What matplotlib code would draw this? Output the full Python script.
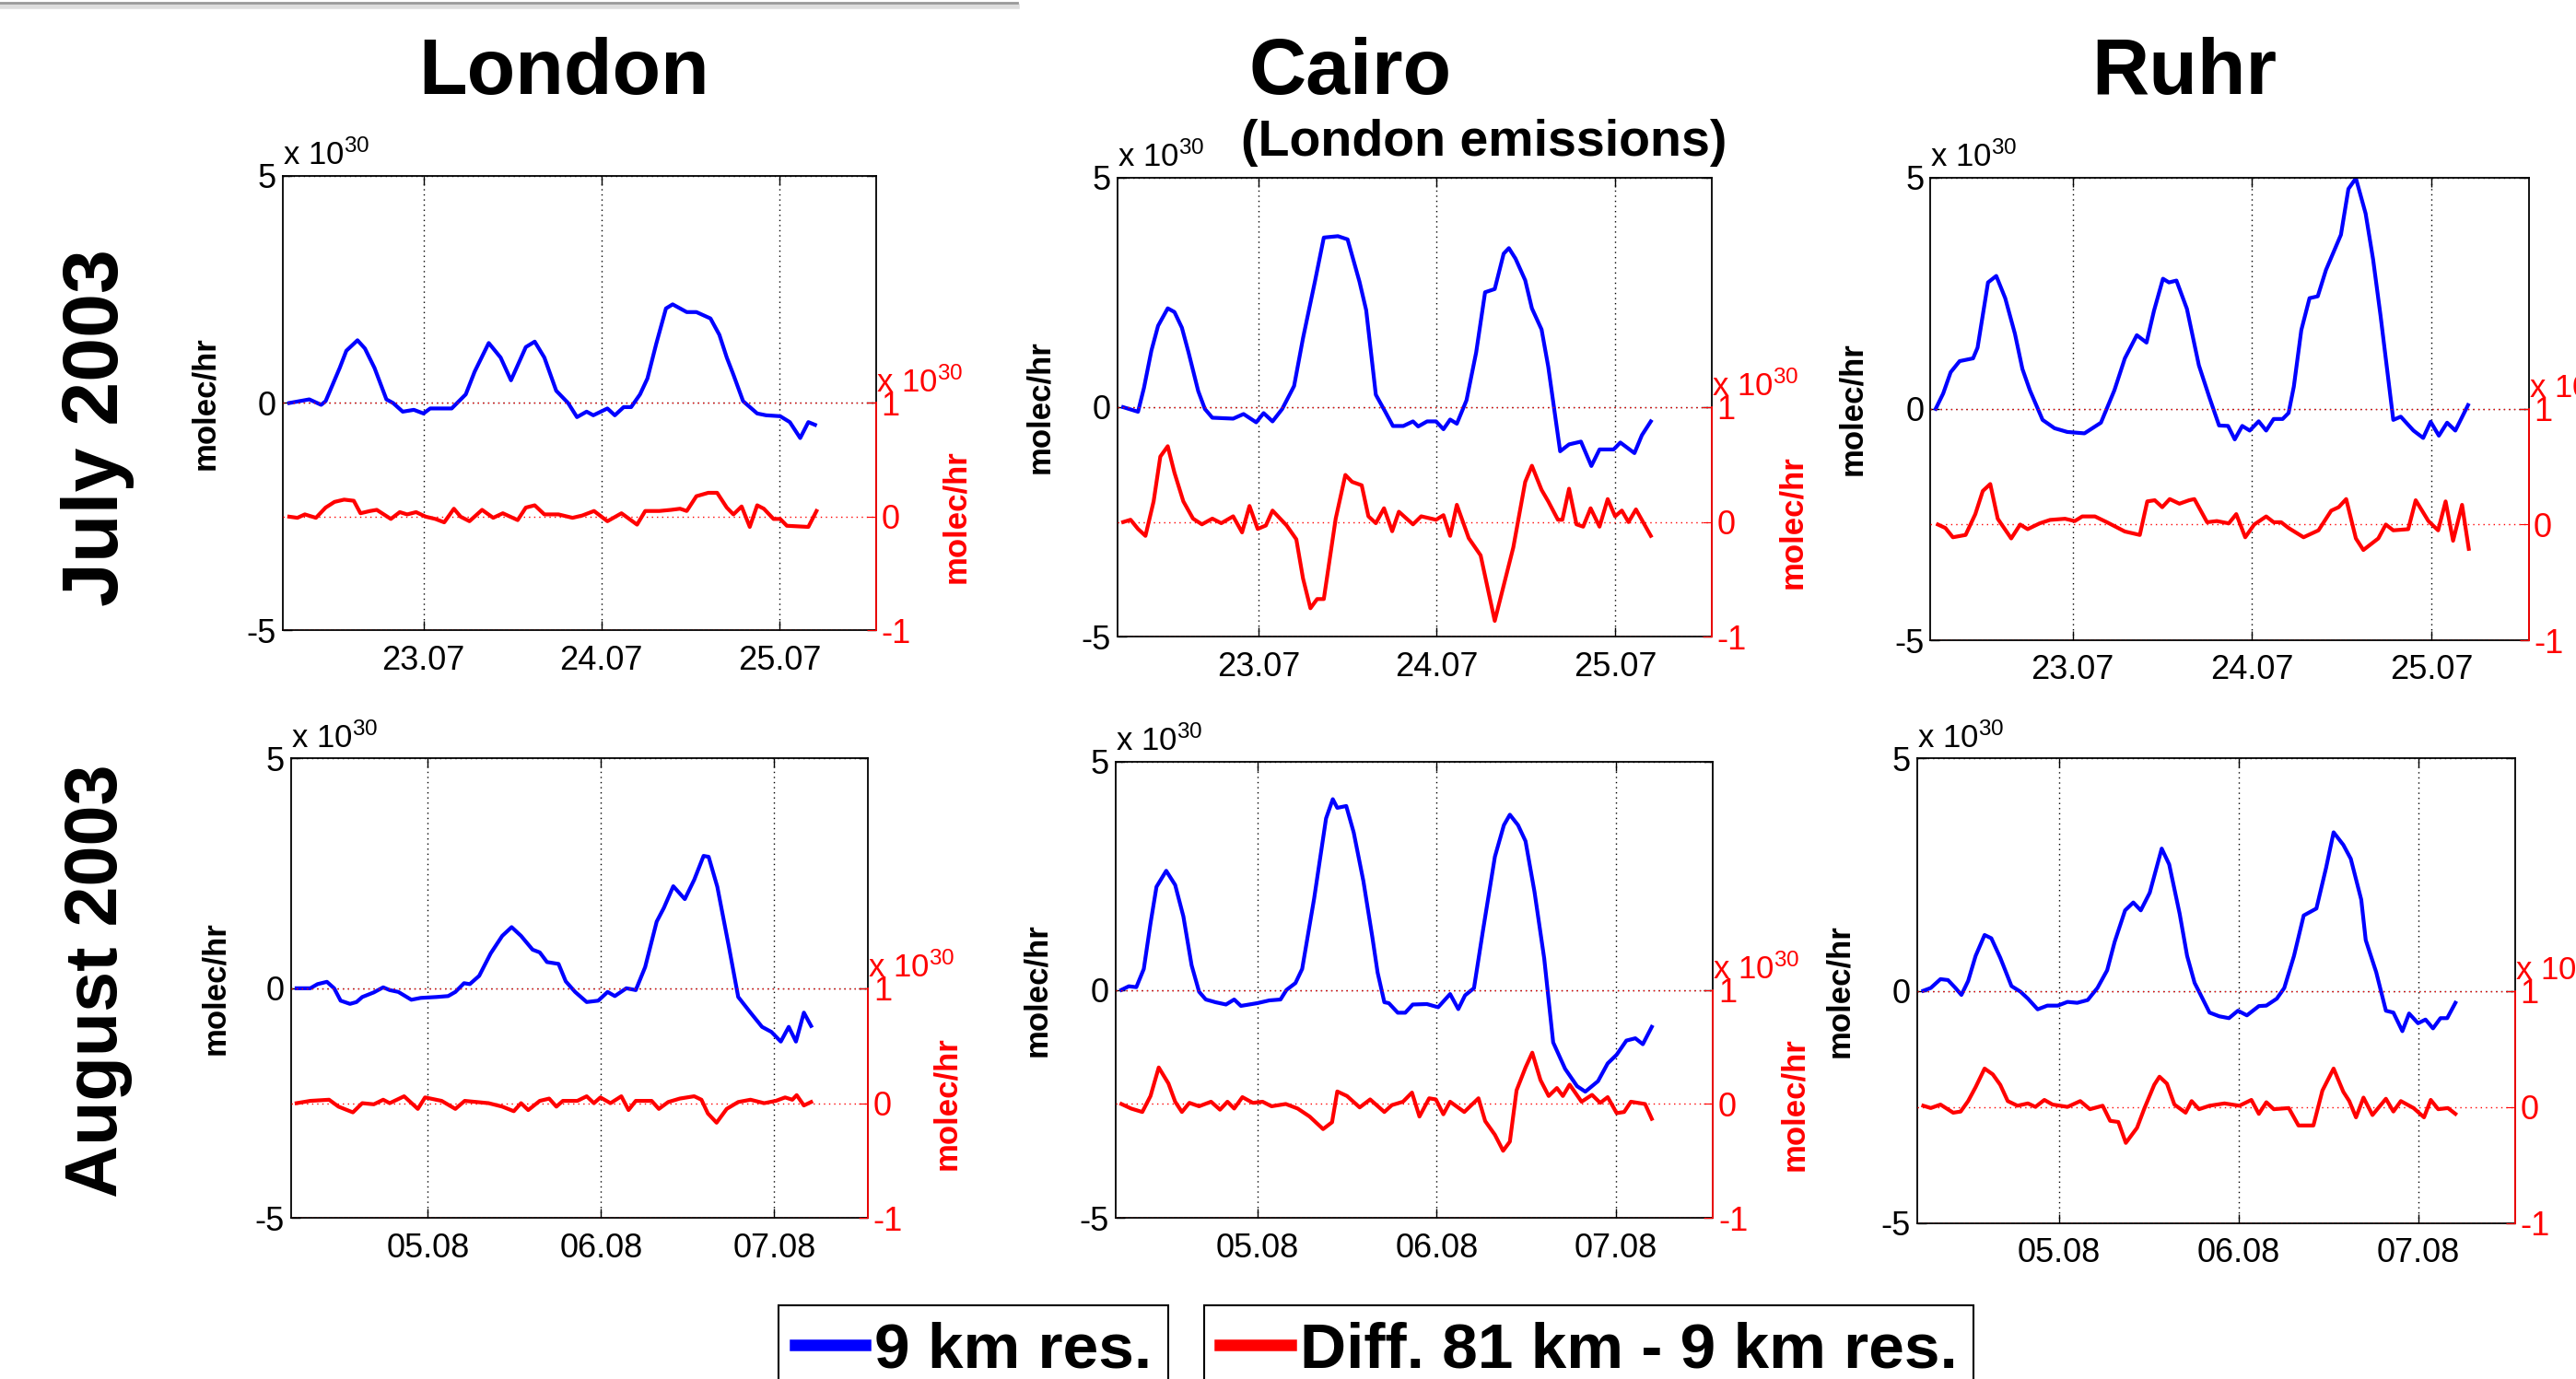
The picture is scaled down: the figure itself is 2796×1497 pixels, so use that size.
import numpy as np
import matplotlib
import matplotlib.pyplot as plt
from matplotlib.lines import Line2D

matplotlib.use('Agg')

plt.rcParams['font.family'] = ['Liberation Sans', 'DejaVu Sans']
plt.rcParams['mathtext.fontset'] = 'custom'
plt.rcParams['mathtext.rm'] = 'Liberation Sans'
plt.rcParams['mathtext.default'] = 'regular'

# (hour since start of window, value in 1e30 molec/hr)
london_jul_9km = [(0.9, 0.0), (3.6, 0.08), (5.2, -0.04), (5.8, 0.04), (7.7, 0.77), (8.6, 1.15), (10.1, 1.38),
                  (11.1, 1.2), (12.4, 0.77), (14.0, 0.08), (14.9, 0.0), (16.2, -0.19), (17.7, -0.15), (19.0, -0.23),
                  (19.9, -0.12), (22.8, -0.12), (24.7, 0.19), (25.9, 0.69), (27.8, 1.32), (29.4, 1.0), (30.8, 0.5),
                  (32.8, 1.23), (34.0, 1.35), (35.3, 1.0), (36.9, 0.27), (38.5, 0.0), (39.7, -0.31), (41.0, -0.19),
                  (41.9, -0.27), (43.8, -0.12), (44.8, -0.27), (46.0, -0.09), (47.0, -0.09), (48.2, 0.19),
                  (49.2, 0.54), (50.4, 1.31), (51.7, 2.08), (52.6, 2.17), (54.5, 2.0), (55.8, 2.0), (57.7, 1.86),
                  (58.9, 1.5), (59.9, 1.0), (60.8, 0.62), (62.1, 0.04), (64.0, -0.23), (65.2, -0.27), (67.1, -0.29),
                  (68.4, -0.42), (69.8, -0.77), (70.9, -0.42), (71.8, -0.48)]
london_jul_diff = [(0.9, 0.0), (2.0, -0.01), (3.0, 0.02), (4.5, -0.01), (5.8, 0.08), (7.0, 0.13), (8.3, 0.15),
                   (9.6, 0.14), (10.5, 0.03), (11.8, 0.05), (12.7, 0.06), (14.6, -0.02), (15.8, 0.04), (16.8, 0.02),
                   (18.0, 0.04), (19.3, 0.0), (20.6, -0.02), (21.8, -0.05), (23.1, 0.07), (24.0, 0.0), (25.2, -0.04),
                   (26.9, 0.06), (28.4, -0.01), (29.7, 0.03), (31.7, -0.03), (32.8, 0.08), (34.0, 0.1), (35.3, 0.02),
                   (37.2, 0.02), (39.1, -0.01), (40.4, 0.01), (42.0, 0.05), (43.8, -0.04), (45.7, 0.03),
                   (47.8, -0.07), (48.9, 0.05), (50.8, 0.05), (52.4, 0.06), (53.6, 0.07), (54.5, 0.05), (55.8, 0.18),
                   (57.4, 0.21), (58.6, 0.21), (59.9, 0.08), (60.8, 0.02), (61.9, 0.09), (63.0, -0.09), (64.0, 0.1),
                   (64.9, 0.07), (66.2, -0.02), (67.1, -0.02), (68.0, -0.08), (70.9, -0.09), (72.0, 0.05)]

cairo_jul_9km = [(0.8, 0.0), (1.8, -0.05), (2.8, -0.1), (3.6, 0.42), (4.6, 1.23), (5.5, 1.77), (6.8, 2.15),
                 (7.7, 2.07), (8.7, 1.73), (9.6, 1.19), (10.9, 0.35), (11.8, -0.04), (12.8, -0.23), (15.6, -0.25),
                 (17.0, -0.15), (18.7, -0.33), (19.7, -0.13), (20.9, -0.31), (22.2, -0.04), (23.8, 0.46),
                 (25.0, 1.5), (26.6, 2.73), (27.8, 3.69), (29.7, 3.72), (31.0, 3.65), (32.6, 2.73), (33.5, 2.11),
                 (34.8, 0.27), (36.0, -0.08), (37.1, -0.41), (38.5, -0.41), (39.8, -0.31), (40.5, -0.42),
                 (41.7, -0.31), (42.9, -0.31), (43.9, -0.48), (44.8, -0.27), (45.7, -0.36), (47.0, 0.15),
                 (48.3, 1.19), (49.5, 2.5), (50.8, 2.57), (52.0, 3.34), (52.7, 3.46), (53.6, 3.23), (54.9, 2.76),
                 (55.8, 2.15), (57.1, 1.69), (58.0, 0.88), (59.6, -0.96), (60.8, -0.81), (62.4, -0.75),
                 (63.8, -1.28), (64.9, -0.92), (66.8, -0.92), (67.7, -0.77), (69.6, -1.0), (70.6, -0.61),
                 (71.8, -0.31)]
cairo_jul_diff = [(0.8, 0.0), (1.8, 0.02), (2.8, -0.06), (3.8, -0.12), (4.9, 0.18), (5.8, 0.57), (6.8, 0.66),
                  (7.7, 0.43), (8.9, 0.18), (10.2, 0.03), (11.4, -0.02), (12.8, 0.03), (14.0, -0.01), (15.6, 0.05),
                  (16.8, -0.09), (17.8, 0.14), (18.9, -0.06), (20.0, -0.03), (20.9, 0.1), (22.8, -0.03),
                  (24.1, -0.15), (25.0, -0.49), (26.0, -0.75), (26.9, -0.67), (27.8, -0.67), (29.4, 0.03),
                  (30.7, 0.41), (31.6, 0.35), (32.9, 0.32), (33.8, 0.05), (34.8, -0.01), (35.9, 0.12), (37.0, -0.08),
                  (37.9, 0.09), (39.8, -0.02), (40.9, 0.05), (42.9, 0.02), (43.9, 0.06), (44.8, -0.12), (45.7, 0.15),
                  (47.3, -0.14), (48.9, -0.29), (50.8, -0.86), (53.3, -0.22), (54.9, 0.35), (55.8, 0.49),
                  (57.1, 0.28), (58.0, 0.18), (59.3, 0.02), (59.9, 0.02), (60.8, 0.29), (61.8, -0.02), (62.7, -0.04),
                  (63.7, 0.12), (64.9, -0.04), (66.0, 0.2), (67.0, 0.05), (67.9, 0.1), (68.8, 0.0), (69.8, 0.11),
                  (71.8, -0.12)]

ruhr_jul_9km = [(0.7, 0.0), (1.7, 0.33), (2.7, 0.79), (3.9, 1.03), (5.7, 1.09), (6.3, 1.32), (7.7, 2.73),
                (8.8, 2.87), (10.0, 2.39), (11.3, 1.62), (12.3, 0.86), (13.3, 0.4), (15.0, -0.24), (16.6, -0.42),
                (18.3, -0.5), (20.6, -0.53), (22.8, -0.3), (24.6, 0.4), (26.0, 1.09), (27.6, 1.59), (28.9, 1.43),
                (29.9, 2.12), (31.1, 2.81), (31.9, 2.73), (32.9, 2.77), (34.3, 2.16), (35.9, 0.94), (37.3, 0.25),
                (38.6, -0.36), (39.8, -0.37), (40.7, -0.66), (41.7, -0.37), (42.7, -0.47), (43.9, -0.27),
                (44.9, -0.47), (45.9, -0.22), (47.1, -0.22), (47.9, -0.09), (48.6, 0.48), (49.6, 1.7), (50.7, 2.39),
                (51.8, 2.43), (52.9, 3.0), (54.9, 3.76), (55.9, 4.75), (56.9, 4.98), (58.2, 4.22), (59.2, 3.23),
                (60.2, 2.01), (61.9, -0.24), (62.9, -0.17), (64.6, -0.47), (65.9, -0.63), (66.9, -0.28),
                (68.0, -0.58), (69.1, -0.3), (70.2, -0.47), (71.9, 0.08)]
ruhr_jul_diff = [(1.0, 0.0), (2.0, -0.03), (3.0, -0.11), (4.7, -0.09), (6.0, 0.09), (7.0, 0.29), (8.0, 0.35),
                 (9.0, 0.05), (10.8, -0.12), (12.0, 0.0), (13.0, -0.04), (14.6, 0.01), (16.0, 0.04), (18.0, 0.05),
                 (19.3, 0.03), (20.3, 0.07), (22.0, 0.07), (23.6, 0.02), (26.0, -0.06), (28.0, -0.09), (29.0, 0.2),
                 (30.0, 0.21), (31.0, 0.15), (32.0, 0.22), (33.3, 0.18), (34.6, 0.21), (35.3, 0.22), (37.0, 0.02),
                 (38.3, 0.03), (39.9, 0.01), (40.9, 0.09), (42.1, -0.11), (43.3, 0.0), (44.9, 0.07), (45.9, 0.02),
                 (46.9, 0.02), (47.9, -0.03), (49.9, -0.11), (51.9, -0.05), (53.6, 0.12), (54.6, 0.15),
                 (55.6, 0.22), (56.9, -0.12), (57.9, -0.22), (59.9, -0.12), (60.9, 0.0), (61.9, -0.05),
                 (63.9, -0.04), (64.9, 0.21), (66.6, 0.03), (67.9, -0.05), (68.9, 0.2), (69.9, -0.14), (71.1, 0.17),
                 (72.0, -0.21)]

london_aug_9km = [(0.8, 0.0), (2.7, 0.0), (3.7, 0.09), (5.0, 0.14), (6.0, 0.0), (6.9, -0.27), (8.2, -0.34),
                  (9.1, -0.3), (9.9, -0.19), (11.5, -0.09), (12.8, 0.02), (13.7, -0.04), (14.9, -0.08),
                  (16.7, -0.25), (18.0, -0.21), (20.2, -0.19), (21.8, -0.17), (22.8, -0.08), (24.0, 0.11),
                  (24.8, 0.09), (26.1, 0.27), (27.7, 0.76), (29.3, 1.14), (30.6, 1.33), (31.9, 1.14), (33.5, 0.84),
                  (34.5, 0.78), (35.5, 0.57), (37.1, 0.53), (38.1, 0.15), (39.4, -0.08), (41.0, -0.3), (42.6, -0.27),
                  (43.9, -0.08), (44.9, -0.17), (46.5, 0.0), (47.8, -0.04), (49.1, 0.46), (50.7, 1.45), (51.7, 1.75),
                  (53.0, 2.22), (54.6, 1.94), (55.9, 2.36), (57.2, 2.88), (57.9, 2.86), (59.1, 2.21), (60.7, 0.91),
                  (62.0, -0.19), (63.7, -0.53), (65.3, -0.84), (66.6, -0.95), (67.9, -1.16), (69.0, -0.84),
                  (70.0, -1.16), (71.1, -0.53), (72.1, -0.82)]
london_aug_diff = [(0.8, 0.0), (2.7, 0.02), (5.3, 0.03), (6.6, -0.03), (8.6, -0.08), (9.9, 0.0), (11.5, -0.01),
                   (12.8, 0.03), (13.7, 0.0), (15.7, 0.06), (17.6, -0.05), (18.6, 0.05), (20.9, 0.02), (22.8, -0.05),
                   (24.1, 0.02), (27.4, 0.0), (29.3, -0.03), (30.9, -0.07), (31.9, 0.0), (32.9, -0.06), (34.5, 0.02),
                   (35.8, 0.04), (36.8, -0.03), (37.7, 0.02), (39.7, 0.02), (41.0, 0.06), (42.0, 0.0), (42.9, 0.05),
                   (44.3, 0.0), (45.8, 0.06), (46.8, -0.06), (47.8, 0.02), (50.0, 0.02), (51.0, -0.05), (52.3, 0.01),
                   (53.9, 0.04), (55.9, 0.06), (56.9, 0.03), (57.8, -0.09), (59.0, -0.17), (60.4, -0.05),
                   (62.0, 0.01), (63.7, 0.03), (65.6, 0.0), (67.2, 0.02), (68.5, 0.05), (69.5, 0.03), (70.1, 0.07),
                   (71.1, -0.02), (72.1, 0.01)]

cairo_aug_9km = [(0.8, 0.0), (1.8, 0.08), (2.8, 0.06), (3.8, 0.46), (4.7, 1.46), (5.5, 2.26), (6.8, 2.61),
                 (8.0, 2.3), (9.1, 1.61), (10.2, 0.54), (11.2, -0.04), (12.1, -0.21), (13.4, -0.27), (14.8, -0.32),
                 (15.9, -0.21), (16.8, -0.35), (19.0, -0.29), (20.6, -0.23), (22.1, -0.21), (22.9, 0.0),
                 (24.1, 0.15), (25.0, 0.46), (26.6, 2.0), (28.2, 3.76), (29.1, 4.18), (29.7, 3.99), (30.9, 4.03),
                 (31.9, 3.45), (33.2, 2.38), (34.4, 1.15), (35.1, 0.38), (36.0, -0.27), (36.6, -0.29), (37.8, -0.5),
                 (38.8, -0.5), (39.8, -0.32), (41.7, -0.31), (43.2, -0.38), (44.8, -0.09), (45.9, -0.42),
                 (46.8, -0.12), (48.0, 0.04), (49.2, 1.3), (50.8, 2.92), (52.0, 3.61), (52.8, 3.84), (53.9, 3.61),
                 (54.9, 3.26), (56.1, 2.15), (57.4, 0.69), (58.6, -1.15), (60.2, -1.73), (61.8, -2.11),
                 (62.9, -2.23), (64.6, -2.0), (65.9, -1.61), (67.1, -1.42), (68.4, -1.11), (69.6, -1.06),
                 (70.6, -1.19), (71.8, -0.81)]
cairo_aug_diff = [(0.8, 0.0), (2.1, -0.04), (3.6, -0.07), (4.7, 0.07), (5.8, 0.32), (7.1, 0.18), (8.0, 0.02),
                  (8.9, -0.07), (9.9, 0.01), (11.2, -0.02), (12.8, 0.02), (14.0, -0.05), (15.0, 0.02), (15.9, -0.04),
                  (17.0, 0.06), (18.4, 0.01), (19.7, 0.02), (20.9, -0.02), (22.8, 0.0), (24.4, -0.04), (26.0, -0.11),
                  (27.8, -0.22), (29.0, -0.16), (29.7, 0.11), (31.0, 0.07), (32.7, -0.03), (34.1, 0.04),
                  (36.0, -0.07), (37.0, -0.01), (38.5, 0.02), (39.7, 0.1), (40.7, -0.11), (42.0, 0.05), (42.9, 0.04),
                  (43.9, -0.09), (44.8, 0.02), (46.7, -0.07), (48.6, 0.05), (49.5, -0.15), (50.8, -0.27),
                  (51.9, -0.41), (52.8, -0.33), (53.7, 0.12), (54.9, 0.32), (55.8, 0.45), (56.9, 0.21), (58.0, 0.07),
                  (59.1, 0.14), (59.9, 0.07), (60.8, 0.17), (62.4, 0.02), (63.8, 0.08), (64.9, 0.01), (65.9, 0.06),
                  (67.1, -0.08), (68.1, -0.07), (69.0, 0.02), (70.9, 0.0), (71.8, -0.13)]

ruhr_aug_9km = [(0.8, 0.0), (1.8, 0.06), (3.1, 0.25), (4.1, 0.23), (5.1, 0.06), (5.9, -0.09), (6.8, 0.21),
                (7.8, 0.75), (9.0, 1.2), (9.9, 1.13), (11.1, 0.71), (12.6, 0.1), (13.8, -0.02), (14.8, -0.17),
                (16.1, -0.4), (17.4, -0.32), (18.8, -0.32), (20.1, -0.24), (21.4, -0.26), (22.8, -0.2), (24.1, 0.06),
                (25.4, 0.44), (26.4, 1.05), (27.8, 1.73), (28.9, 1.9), (29.9, 1.73), (31.1, 2.11), (32.7, 3.06),
                (33.7, 2.72), (35.1, 1.66), (36.1, 0.75), (37.1, 0.17), (37.7, -0.02), (39.1, -0.47), (40.4, -0.55),
                (41.7, -0.59), (42.9, -0.43), (44.1, -0.53), (45.7, -0.33), (46.7, -0.32), (48.1, -0.17),
                (49.1, 0.06), (50.4, 0.75), (51.7, 1.62), (53.4, 1.77), (54.7, 2.65), (55.7, 3.41), (57.0, 3.14),
                (58.0, 2.84), (59.4, 1.96), (60.0, 1.09), (61.4, 0.4), (62.7, -0.43), (63.7, -0.47), (64.9, -0.87),
                (65.8, -0.49), (67.0, -0.7), (68.0, -0.62), (69.0, -0.81), (70.0, -0.59), (70.9, -0.59),
                (72.0, -0.26)]
ruhr_aug_diff = [(0.8, 0.01), (1.8, -0.01), (3.1, 0.02), (4.8, -0.05), (5.8, -0.04), (6.8, 0.05), (7.8, 0.17),
                 (9.0, 0.33), (10.1, 0.28), (11.1, 0.19), (12.1, 0.05), (13.4, 0.01), (14.8, 0.03), (15.8, 0.0),
                 (17.0, 0.06), (18.1, 0.02), (20.1, 0.0), (21.8, 0.05), (23.1, -0.02), (24.8, 0.01), (25.8, -0.12),
                 (26.9, -0.13), (27.9, -0.31), (29.4, -0.18), (30.4, -0.01), (31.7, 0.19), (32.4, 0.26), (33.4, 0.2),
                 (34.4, 0.02), (35.9, -0.05), (36.7, 0.05), (37.7, -0.02), (39.1, 0.01), (41.1, 0.03), (43.1, 0.01),
                 (44.7, 0.06), (45.7, -0.06), (46.7, 0.04), (47.7, -0.02), (49.7, -0.01), (51.0, -0.16),
                 (53.0, -0.16), (54.2, 0.14), (55.7, 0.33), (57.0, 0.13), (57.8, 0.05), (58.7, -0.09), (59.7, 0.08),
                 (60.9, -0.07), (62.7, 0.07), (63.7, -0.04), (64.7, 0.05), (66.4, -0.01), (67.8, -0.09),
                 (68.7, 0.06), (69.7, -0.02), (71.0, -0.01), (72.0, -0.06)]

cities = ['London', 'Cairo', 'Ruhr']
months = ['July 2003', 'August 2003']
day_ticks_hr = [19, 43, 67]
day_labels = [['23.07', '24.07', '25.07'], ['05.08', '06.08', '07.08']]
legend_labels = ['9 km res.', 'Diff. 81 km - 9 km res.']

series_9km = [[london_jul_9km, cairo_jul_9km, ruhr_jul_9km],
              [london_aug_9km, cairo_aug_9km, ruhr_aug_9km]]
series_diff = [[london_jul_diff, cairo_jul_diff, ruhr_jul_diff],
               [london_aug_diff, cairo_aug_diff, ruhr_aug_diff]]

BLUE = '#0000ff'
RED = '#ff0000'
DOTS = (0, (1, 3))
LW = 3.0

# axes boxes in figure fractions [left, bottom, width, height]
panel_boxes = [[(0.1097, 0.5429, 0.2303, 0.3297), (0.4337, 0.5381, 0.2308, 0.3333), (0.7494, 0.5357, 0.2322, 0.3357)],
               [(0.1129, 0.1167, 0.2241, 0.3333), (0.4330, 0.1167, 0.2320, 0.3309), (0.7443, 0.1131, 0.2321, 0.3369)]]

fig = plt.figure(figsize=(27.96, 14.97), dpi=100)

for row in range(2):
    for col in range(3):
        l, b, w, h = panel_boxes[row][col]
        ax = fig.add_axes([l, b, w, h])
        ax2 = fig.add_axes([l, b, w, h / 2])

        # 9 km run, left axis
        t, v = np.array(series_9km[row][col]).T
        ax.plot(t, v, color=BLUE, lw=LW)
        ax.set_xlim(0, 80)
        ax.set_ylim(-5, 5)
        ax.set_yticks([-5, 0, 5])
        ax.set_yticklabels(['-5', '0', '5'])
        ax.set_xticks(day_ticks_hr)
        ax.set_xticklabels(day_labels[row])
        ax.tick_params(direction='in', length=7, width=1, top=True, right=True, labelsize=26)
        ax.tick_params(axis='x', pad=11)
        ax.tick_params(axis='y', pad=5)
        ax.grid(True, color='k', linestyle=DOTS, linewidth=1)
        for sp in ax.spines.values():
            sp.set_linewidth(1.3)
        ax.set_ylabel('molec/hr', fontsize=25, fontweight='bold')
        ax.yaxis.set_label_coords(-0.105, 0.5)
        ax.text(0.0, 1.01, r'x $10^{30}$', transform=ax.transAxes, fontsize=25, ha='left', va='bottom')

        # difference, right axis on lower half
        t2, v2 = np.array(series_diff[row][col]).T
        ax2.plot(t2, v2, color=RED, lw=LW)
        ax2.set_xlim(0, 80)
        ax2.set_ylim(-1, 1)
        ax2.patch.set_visible(False)
        for side in ['left', 'top', 'bottom']:
            ax2.spines[side].set_visible(False)
        ax2.spines['right'].set_color(RED)
        ax2.spines['right'].set_linewidth(1.3)
        ax2.set_xticks([])
        ax2.yaxis.tick_right()
        ax2.set_yticks([-1, 0, 1])
        ax2.set_yticklabels(['-1', '0', '1'])
        ax2.tick_params(axis='y', colors=RED, direction='in', length=7, labelsize=26, pad=4)
        ax2.grid(True, axis='y', color=RED, linestyle=DOTS, linewidth=1)
        ax2.yaxis.set_label_position('right')
        ax2.set_ylabel('molec/hr', color=RED, fontsize=25, fontweight='bold')
        ax2.yaxis.set_label_coords(1.11, 0.5)
        ax2.text(1.0, 1.02, r'x $10^{30}$', transform=ax2.transAxes, color=RED, fontsize=25,
                 ha='left', va='bottom')

# column titles
fig.text(0.2188, 0.932, cities[0], fontsize=62, fontweight='bold', ha='center', va='baseline')
fig.text(0.524, 0.932, cities[1], fontsize=62, fontweight='bold', ha='center', va='baseline')
fig.text(0.576, 0.887, '(London emissions)', fontsize=40, fontweight='bold', ha='center', va='baseline')
fig.text(0.848, 0.932, cities[2], fontsize=62, fontweight='bold', ha='center', va='baseline')

# row titles
fig.text(0.038, 0.69, months[0], fontsize=62, fontweight='bold', rotation=90, ha='center', va='center')
fig.text(0.038, 0.289, months[1], fontsize=57, fontweight='bold', rotation=90, ha='center', va='center')

# two boxed legends at the bottom
leg_kw = dict(loc='upper left', borderaxespad=0, fancybox=False, edgecolor='k', framealpha=1,
              prop={'weight': 'bold', 'size': 50}, handlelength=1.1, handletextpad=0.15, borderpad=0.25)
leg1 = fig.legend([Line2D([], [], color=BLUE, lw=9)], [legend_labels[0]], bbox_to_anchor=(0.3023, 0.0536), **leg_kw)
leg2 = fig.legend([Line2D([], [], color=RED, lw=9)], [legend_labels[1]], bbox_to_anchor=(0.4675, 0.0536), **leg_kw)
for leg in (leg1, leg2):
    leg.get_frame().set_linewidth(1.5)

# slide edge left over at the top
fig.add_artist(Line2D([0, 0.395], [0.9955, 0.9955], transform=fig.transFigure, color='#dddddd', lw=4))
fig.add_artist(Line2D([0, 0.395], [0.998, 0.998], transform=fig.transFigure, color='#999999', lw=2))

fig.savefig('out.png', dpi=100)
plt.close(fig)
